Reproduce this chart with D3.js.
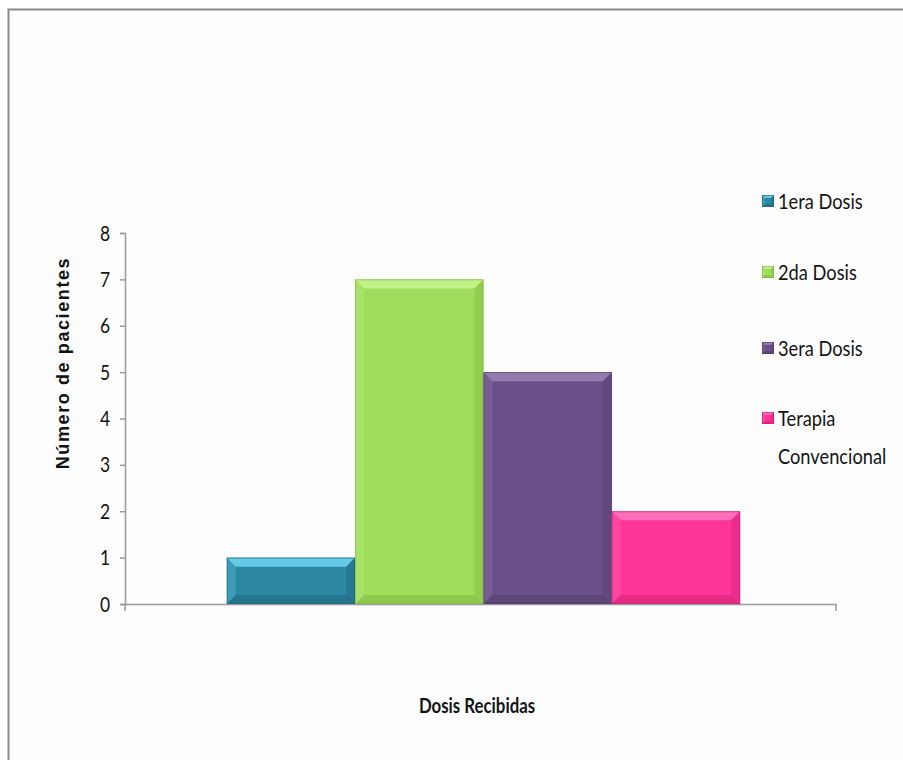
<!DOCTYPE html>
<html>
<head>
<meta charset="utf-8">
<script src="https://cdn.jsdelivr.net/npm/d3@7"></script>
<style>
  html, body { margin: 0; padding: 0; background: #ffffff; }
  svg { display: block; }
</style>
</head>
<body>
<div id="chart"></div>
<script>
// Patients per dose group
const categories = ["Dosis Recibidas"];
const series = ["1era Dosis", "2da Dosis", "3era Dosis", "Terapia Convencional"];
const values = [1, 7, 5, 2];
const yTicks = [0, 1, 2, 3, 4, 5, 6, 7, 8];
const colors = ["#2b87a2", "#9edd5b", "#6a5088", "#fe3597"];
const lightColors = ["#6fd6f2", "#c8f48f", "#9a83b6", "#ff78bd"];
const darkColors = ["#1d5f74", "#79b23d", "#4c3766", "#c71e72"];

const W = 903, H = 760;
const svg = d3.select("#chart").append("svg")
  .attr("width", W).attr("height", H);

// panel background and frame
svg.append("rect").attr("x", 0).attr("y", 0).attr("width", W).attr("height", H).attr("fill", "#ffffff");
svg.append("rect").attr("x", 8.5).attr("y", 9.5).attr("width", W + 10).attr("height", H + 10)
  .attr("fill", "#fdfdfd").attr("stroke", "#8a8a8a").attr("stroke-width", 2);

const plot = { left: 125, right: 836, top: 233, bottom: 604 };

const y = d3.scaleLinear().domain([0, 8]).range([plot.bottom, plot.top]);
const xCat = d3.scaleBand().domain(categories).range([plot.left, plot.right]).padding(0);
const xSer = d3.scaleBand().domain(series)
  .range([xCat(categories[0]), xCat(categories[0]) + xCat.bandwidth()])
  .paddingInner(0).paddingOuter(0.77).align(0.515);

const font = "Lato, 'Open Sans', sans-serif";

// narrow-set label helper
function label(parent, x, yPos, txt, opts = {}) {
  const g = parent.append("g").attr("transform", `translate(${x},${yPos}) scale(${opts.squeeze || 0.83},1)`);
  return g.append("text")
    .attr("text-anchor", opts.anchor || "start")
    .attr("font-family", font)
    .attr("font-size", opts.size || 22)
    .attr("font-weight", opts.weight || "normal")
    .attr("fill", "#141414")
    .text(txt);
}

// y axis
const yAxis = d3.axisLeft(y).tickValues(yTicks).tickSize(5).tickFormat("");
const gy = svg.append("g").attr("transform", `translate(${plot.left},0)`).call(yAxis);
gy.select(".domain").attr("stroke", "#9a9a9a").attr("stroke-width", 1.5);
gy.selectAll(".tick line").attr("stroke", "#9a9a9a").attr("stroke-width", 1.5);
yTicks.forEach(t => {
  label(svg, 110, y(t) + 7.5, d3.format("d")(t), { anchor: "end", size: 21 });
});

// x axis (single category, ticks hanging down at both ends)
const xAxis = d3.axisBottom(xCat).tickValues([]).tickSizeOuter(0);
const gx = svg.append("g").attr("transform", `translate(0,${plot.bottom})`).call(xAxis);
gx.select(".domain").attr("stroke", "#9a9a9a").attr("stroke-width", 1.5);
[plot.left, plot.right].forEach(px => {
  gx.append("line").attr("x1", px).attr("x2", px).attr("y1", 0).attr("y2", 7)
    .attr("stroke", "#9a9a9a").attr("stroke-width", 1.5);
});

// bevelled bar
function bevel(g, x0, y0, w, h, i, b) {
  const x1 = x0 + w, y1 = y0 + h;
  g.append("rect").attr("x", x0).attr("y", y0).attr("width", w).attr("height", h).attr("fill", colors[i]);
  const poly = (pts, fill, op) => g.append("polygon")
    .attr("points", pts.map(p => p.join(",")).join(" "))
    .attr("fill", fill).attr("opacity", op);
  poly([[x0, y0], [x1, y0], [x1 - b, y0 + b], [x0 + b, y0 + b]], lightColors[i], 0.85);
  poly([[x0, y0], [x0 + b, y0 + b], [x0 + b, y1 - b], [x0, y1]], lightColors[i], 0.25);
  poly([[x1, y0], [x1, y1], [x1 - b, y1 - b], [x1 - b, y0 + b]], darkColors[i], 0.35);
  poly([[x0, y1], [x0 + b, y1 - b], [x1 - b, y1 - b], [x1, y1]], darkColors[i], 0.45);
  g.append("rect").attr("x", x0 + 0.5).attr("y", y0 + 0.5).attr("width", w - 1).attr("height", h - 1)
    .attr("fill", "none").attr("stroke", darkColors[i]).attr("stroke-width", 1).attr("opacity", 0.55);
}

const bars = svg.append("g");
series.forEach((s, i) => {
  const g = bars.append("g");
  const bx = xSer(s), bw = xSer.bandwidth();
  const by = y(values[i]), bh = y(0) - y(values[i]);
  bevel(g, bx, by, bw, bh, i, 9);
});

// legend
const legendY = [201, 272, 348, 418];
const lg = svg.append("g");
series.forEach((s, i) => {
  const g = lg.append("g");
  bevel(g, 762, legendY[i] - 6, 12, 12, i, 3);
  const words = s === "Terapia Convencional" ? ["Terapia", "Convencional"] : [s];
  words.forEach((wd, k) => {
    label(g, 778, legendY[i] + 8 + k * 38, wd, { size: 22 });
  });
});

// axis titles
svg.append("text")
  .attr("transform", `translate(69,${363}) rotate(-90)`)
  .attr("text-anchor", "middle")
  .attr("font-family", "'Liberation Sans', Arial, sans-serif")
  .attr("font-weight", "bold").attr("font-size", 18).attr("letter-spacing", 1.6)
  .attr("fill", "#111").text("Número de pacientes");

label(svg, 477, 713, categories[0], { anchor: "middle", size: 21, weight: "bold", squeeze: 0.8 });
</script>
</body>
</html>
